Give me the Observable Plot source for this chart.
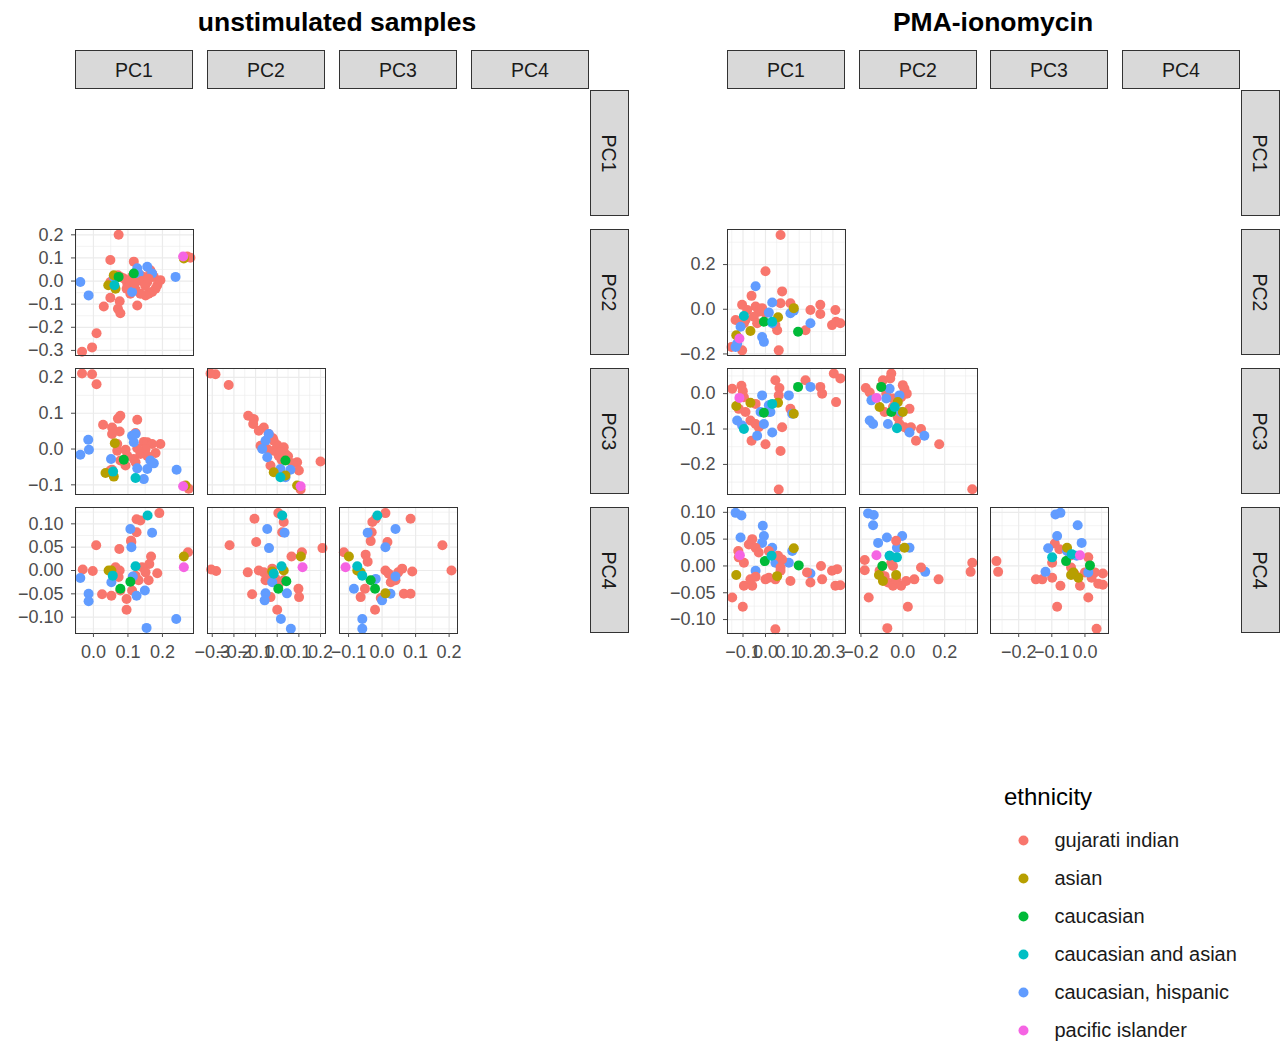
<!DOCTYPE html>
<html>
<head>
<meta charset="utf-8">
<script src="https://cdn.jsdelivr.net/npm/d3@7"></script>
<script src="https://cdn.jsdelivr.net/npm/@observablehq/plot@0.6"></script>
<style>
  body { margin: 0; background: #fff; }
  #root { position: relative; width: 1280px; height: 1044px; background: #fff; overflow: hidden;
          font-family: "Liberation Sans", Arial, Helvetica, sans-serif; }
  .strip { position: absolute; box-sizing: border-box; border: 1px solid #333; background: #D9D9D9;
           color: #1A1A1A; font-size: 19.5px; display: flex; align-items: center; justify-content: center; }
  .strip span.h { display: inline-block; padding-top: 2px; }
  .strip span.rot { display: inline-block; transform: rotate(90deg); white-space: nowrap; padding-top: 2px; }
  .title { position: absolute; font-weight: bold; font-size: 26.5px; color: #000; text-align: center; }
</style>
</head>
<body>
<div id="root"></div>
<script>
// ---------------- data ----------------
const groups = ["gujarati indian", "asian", "caucasian", "caucasian and asian", "caucasian, hispanic", "pacific islander"];
const palette = ["#F8766D", "#B79F00", "#00BA38", "#00BFC4", "#619CFF", "#F564E3"];
const pcNames = ["PC1", "PC2", "PC3", "PC4"];
const chartTitles = ["unstimulated samples", "PMA-ionomycin"];

// tick values (major / minor) per principal component, per chart
const unstimTicks = {
  PC1: [0, 0.1, 0.2], PC2: [-0.3, -0.2, -0.1, 0, 0.1, 0.2], PC3: [-0.1, 0, 0.1, 0.2], PC4: [-0.10, -0.05, 0, 0.05, 0.10]
};
const unstimMinor = {
  PC1: [-0.05, 0.05, 0.15, 0.25], PC2: [-0.25, -0.15, -0.05, 0.05, 0.15], PC3: [-0.05, 0.05, 0.15], PC4: [-0.125, -0.075, -0.025, 0.025, 0.075, 0.125]
};
const unstimDomain = {
  PC1: [-0.052, 0.290], PC2: [-0.322, 0.223], PC3: [-0.127, 0.225], PC4: [-0.135, 0.135]
};
const pmaTicks = {
  PC1: [-0.1, 0, 0.1, 0.2, 0.3], PC2: [-0.2, 0, 0.2], PC3: [-0.2, -0.1, 0], PC4: [-0.10, -0.05, 0, 0.05, 0.10]
};
const pmaMinor = {
  PC1: [-0.15, -0.05, 0.05, 0.15, 0.25, 0.35], PC2: [-0.1, 0.1, 0.3], PC3: [-0.25, -0.15, -0.05, 0.05], PC4: [-0.125, -0.075, -0.025, 0.025, 0.075]
};
const pmaDomain = {
  PC1: [-0.169, 0.356], PC2: [-0.207, 0.357], PC3: [-0.285, 0.071], PC4: [-0.126, 0.109]
};

// points: [x (column PC), y (row PC), group index]
const unstim_PC2_PC1 = [
  [0.073,0.200,0],[0.049,0.091,0],[0.117,0.084,0],[0.071,0.025,0],[-0.033,-0.306,0],[-0.004,-0.287,0],[0.009,-0.226,0],[0.030,-0.110,0],[0.049,-0.072,0],[0.076,-0.087,0],[0.071,-0.120,0],[0.078,-0.139,0],[0.127,-0.106,0],[0.098,-0.011,0],[0.096,-0.033,0],[0.107,-0.055,0],[0.117,-0.040,0],[0.127,0.018,0],[0.136,0.025,0],[0.146,0.018,0],[0.156,-0.004,0],[0.165,0.047,0],[0.170,0.033,0],[0.175,0.018,0],[0.185,-0.018,0],[0.194,0.004,0],[0.180,-0.033,0],[0.170,-0.047,0],[0.160,-0.055,0],[0.151,-0.062,0],[0.136,-0.055,0],[0.122,-0.037,0],[0.112,0.018,0],[0.088,0.011,0],[0.078,0.018,0],[0.064,0.011,0],[0.049,-0.004,0],[0.272,0.106,0],[0.281,0.101,0],
  [-0.038,-0.004,4],[-0.014,-0.062,4],[0.238,0.018,4],[0.156,0.062,4],[0.127,0.055,4],[0.170,0.033,4],[0.112,-0.047,4],[0.059,0.018,4],[0.131,0.033,4],
  [0.262,0.098,1],[0.043,-0.018,1],[0.064,-0.033,1],[0.059,0.025,1],
  [0.117,0.033,2],[0.073,0.018,2],
  [0.061,-0.018,3],
  [0.260,0.106,5],
  [0.140,0.000,0],[0.150,-0.020,0],[0.120,-0.010,0],[0.160,0.010,0]
];
const unstim_PC3_PC1 = [
  [-0.033,0.211,0],[-0.004,0.209,0],[0.009,0.181,0],[0.078,0.093,0],[0.071,0.085,0],[0.028,0.068,0],[0.054,0.060,0],[0.076,0.049,0],[0.054,0.042,0],[0.127,0.082,0],[0.122,0.045,0],[0.146,0.020,0],[0.156,0.019,0],[0.170,0.014,0],[0.194,0.014,0],[0.151,0.000,0],[0.127,0.002,0],[0.136,-0.014,0],[0.117,-0.028,0],[0.156,-0.019,0],[0.180,-0.011,0],[0.069,-0.005,0],[0.078,-0.032,0],[0.093,-0.002,0],[0.098,-0.019,0],[0.093,-0.046,0],[0.054,-0.058,0],[0.049,-0.060,0],[0.276,-0.111,0],[0.069,0.014,0],[0.122,-0.037,0],
  [-0.038,-0.016,4],[-0.015,0.026,4],[-0.013,-0.002,4],[0.051,-0.028,4],[0.112,0.037,4],[0.117,0.019,4],[0.127,-0.054,4],[0.146,-0.084,4],[0.156,-0.056,4],[0.165,-0.032,4],[0.175,-0.040,4],[0.241,-0.058,4],[0.122,0.042,4],
  [0.062,0.016,1],[0.035,-0.067,1],[0.059,-0.077,1],[0.267,-0.102,1],
  [0.088,-0.030,2],
  [0.122,-0.081,3],[0.057,-0.063,3],
  [0.260,-0.104,5]
];
const unstim_PC3_PC2 = [
  [-0.308,0.211,0],[-0.285,0.209,0],[-0.224,0.179,0],[-0.134,0.093,0],[-0.108,0.084,0],[-0.111,0.070,0],[-0.062,0.060,0],[-0.085,0.051,0],[-0.039,0.042,0],[-0.016,0.023,0],[-0.046,0.000,0],[0.000,0.011,0],[0.030,0.005,0],[0.038,-0.014,0],[0.007,-0.019,0],[-0.016,-0.005,0],[0.092,-0.037,0],[0.100,-0.060,0],[0.200,-0.035,0],[-0.031,-0.046,0],[0.108,-0.113,0],[-0.077,0.009,0],[0.015,-0.009,0],[-0.020,0.030,0],[0.020,-0.030,0],[0.050,-0.020,0],[0.070,-0.040,0],
  [-0.054,0.023,4],[-0.039,0.042,4],[-0.046,-0.023,4],[0.015,-0.056,4],[0.038,-0.079,4],[0.061,-0.058,4],[-0.069,0.000,4],
  [-0.016,-0.065,1],[0.038,-0.074,1],[0.092,-0.102,1],
  [0.038,-0.032,2],
  [0.015,-0.079,3],
  [0.108,-0.104,5]
];
const unstim_PC4_PC1 = [
  [-0.031,0.002,0],[-0.002,-0.001,0],[0.008,0.054,0],[0.025,-0.051,0],[0.052,-0.054,0],[0.075,0.046,0],[0.076,0.000,0],[0.073,-0.014,0],[0.096,-0.061,0],[0.096,-0.084,0],[0.109,0.064,0],[0.110,0.061,0],[0.125,0.110,0],[0.125,0.082,0],[0.136,0.107,0],[0.191,0.123,0],[0.167,0.030,0],[0.162,0.014,0],[0.141,0.007,0],[0.151,-0.004,0],[0.160,-0.021,0],[0.185,-0.006,0],[0.131,-0.021,0],[0.112,-0.043,0],[0.122,-0.011,0],[0.274,0.039,0],[0.078,-0.043,0],[0.064,0.007,0],
  [-0.038,-0.016,4],[-0.014,-0.050,4],[-0.014,-0.066,4],[0.107,0.089,4],[0.110,0.050,4],[0.170,0.081,4],[0.052,-0.025,4],[0.125,-0.054,4],[0.149,-0.043,4],[0.154,-0.123,4],[0.240,-0.104,4],[0.114,-0.013,4],
  [0.044,0.000,1],[0.052,0.000,1],[0.262,0.030,1],
  [0.078,-0.039,2],[0.107,-0.024,2],
  [0.157,0.118,3],[0.122,0.009,3],[0.056,-0.011,3],
  [0.262,0.007,5]
];
const unstim_PC4_PC2 = [
  [-0.305,0.002,0],[-0.282,-0.001,0],[-0.220,0.054,0],[-0.136,-0.004,0],[-0.116,-0.051,0],[-0.105,0.111,0],[-0.085,0.000,0],[-0.062,-0.004,0],[-0.054,-0.021,0],[-0.097,0.061,0],[-0.031,-0.057,0],[0.000,-0.084,0],[0.005,0.123,0],[0.030,0.104,0],[0.023,0.082,0],[0.030,-0.021,0],[0.007,-0.029,0],[0.066,0.030,0],[0.098,-0.039,0],[0.101,-0.057,0],[0.114,0.039,0],[0.209,0.048,0],[-0.023,0.004,0],[-0.039,-0.014,0],[-0.008,-0.018,0],
  [-0.046,0.089,4],[-0.038,0.048,4],[-0.054,-0.049,4],[-0.058,-0.064,4],[0.017,-0.104,4],[0.063,-0.125,4],[0.034,0.081,4],[0.045,-0.049,4],[-0.023,-0.025,4],
  [-0.023,-0.002,1],[0.030,0.000,1],[0.109,0.030,1],
  [0.005,-0.039,2],[0.042,-0.023,2],
  [0.023,0.118,3],[0.020,0.009,3],[-0.016,-0.007,3],
  [0.117,0.007,5]
];
const unstim_PC4_PC3 = [
  [-0.114,0.039,0],[-0.049,0.034,0],[-0.043,0.019,0],[-0.034,0.063,0],[-0.029,0.104,0],[-0.019,0.111,0],[-0.031,0.082,0],[0.010,0.123,0],[0.016,0.061,0],[0.085,0.111,0],[0.048,-0.004,0],[0.060,0.004,0],[0.090,-0.002,0],[0.065,-0.050,0],[0.085,-0.050,0],[0.180,0.054,0],[0.207,0.000,0],[-0.064,-0.057,0],[-0.051,-0.039,0],[-0.021,-0.084,0],[-0.004,-0.059,0],[0.026,-0.025,0],[0.010,0.000,0],[0.040,-0.021,0],[0.020,-0.007,0],
  [-0.043,0.081,4],[0.010,0.050,4],[0.040,0.089,4],[-0.084,-0.039,4],[-0.059,-0.104,4],[-0.059,-0.125,4],[0.000,-0.064,4],[0.025,-0.050,4],[0.040,-0.013,4],[-0.019,-0.018,4],
  [-0.099,0.030,1],[-0.074,0.000,1],[-0.064,-0.004,1],[0.010,-0.049,1],
  [-0.034,-0.021,2],[-0.021,-0.039,2],
  [-0.074,0.009,3],[-0.059,-0.011,3],[-0.014,0.118,3],
  [-0.109,0.007,5]
];

const pma_PC2_PC1 = [
  [0.067,0.332,0],[0.000,0.170,0],[0.074,0.080,0],[0.067,0.027,0],[0.111,0.027,0],[0.059,-0.184,0],[-0.104,-0.184,0],[-0.151,-0.169,0],[-0.062,0.060,0],[-0.104,0.020,0],[-0.081,-0.003,0],[-0.044,0.012,0],[-0.030,-0.011,0],[-0.052,-0.033,0],[-0.089,-0.048,0],[-0.096,-0.063,0],[-0.037,-0.063,0],[0.000,-0.018,0],[0.044,-0.071,0],[0.052,-0.094,0],[0.200,-0.003,0],[0.244,0.020,0],[0.244,-0.021,0],[0.311,-0.003,0],[0.296,-0.071,0],[0.314,-0.056,0],[0.333,-0.063,0],[0.178,-0.094,0],[-0.133,-0.048,0],[-0.015,0.005,0],
  [-0.044,0.103,4],[0.030,0.030,4],[0.015,-0.015,4],[0.111,-0.018,4],[0.126,-0.006,4],[0.200,-0.063,4],[-0.015,-0.124,4],[-0.007,-0.146,4],[-0.111,-0.078,4],[-0.133,-0.169,4],[-0.126,-0.154,4],[0.030,-0.063,4],
  [-0.130,-0.116,1],[-0.067,-0.097,1],[0.056,-0.036,1],[0.126,0.005,1],
  [-0.007,-0.056,2],[0.145,-0.101,2],
  [-0.096,-0.030,3],[0.030,-0.056,3],
  [-0.116,-0.131,5]
];
const pma_PC3_PC1 = [
  [-0.148,0.014,0],[-0.107,0.022,0],[-0.101,0.007,0],[0.044,0.038,0],[0.062,0.016,0],[0.059,-0.005,0],[0.178,0.038,0],[0.244,0.019,0],[0.252,0.000,0],[0.304,0.057,0],[0.333,0.043,0],[0.314,-0.024,0],[0.067,-0.162,0],[0.000,-0.143,0],[-0.062,-0.133,0],[-0.044,-0.029,0],[-0.067,-0.076,0],[-0.044,-0.086,0],[-0.030,-0.095,0],[-0.089,-0.052,0],[-0.119,-0.043,0],[0.074,-0.095,0],[0.111,-0.043,0],[0.015,-0.052,0],[0.059,-0.271,0],[-0.096,-0.010,0],
  [-0.015,-0.005,4],[0.104,-0.005,4],[0.200,0.019,4],[-0.022,-0.052,4],[0.022,-0.052,4],[-0.126,-0.076,4],[-0.104,-0.090,4],[-0.037,-0.119,4],[-0.007,-0.086,4],[0.030,-0.110,4],[0.119,-0.057,4],[0.015,-0.033,4],
  [-0.130,-0.035,1],[-0.067,-0.026,1],[0.056,-0.026,1],[0.126,-0.057,1],
  [0.145,0.019,2],[-0.007,-0.054,2],
  [-0.096,-0.100,3],[0.030,-0.029,3],
  [-0.116,-0.012,5]
];
const pma_PC3_PC2 = [
  [-0.177,0.016,0],[-0.158,0.003,0],[-0.095,0.038,0],[-0.055,0.057,0],[-0.060,0.043,0],[-0.087,-0.052,0],[-0.047,-0.014,0],[-0.047,-0.038,0],[-0.032,-0.024,0],[0.000,0.024,0],[0.008,0.014,0],[0.019,0.000,0],[-0.008,-0.010,0],[-0.024,-0.067,0],[-0.016,-0.086,0],[0.008,-0.095,0],[0.024,-0.100,0],[0.039,-0.095,0],[0.032,-0.043,0],[0.087,-0.100,0],[0.063,-0.133,0],[0.174,-0.143,0],[0.332,-0.270,0],[-0.103,0.019,0],[-0.079,0.000,0],
  [-0.158,-0.076,4],[-0.142,-0.086,4],[-0.150,-0.019,4],[-0.071,-0.086,4],[-0.063,0.014,4],[-0.016,-0.005,4],[-0.008,-0.052,4],[0.032,-0.110,4],[0.103,-0.119,4],[-0.079,-0.014,4],
  [-0.111,-0.038,1],[-0.024,-0.024,1],[0.000,-0.052,1],
  [-0.103,0.019,2],[-0.055,-0.052,2],
  [-0.028,-0.098,3],[-0.039,-0.038,3],
  [-0.126,-0.012,5]
];
const pma_PC4_PC1 = [
  [-0.133,0.099,4],[-0.107,0.094,4],[-0.111,0.053,4],[-0.012,0.075,4],[-0.007,0.056,4],[-0.015,0.043,4],[0.030,0.034,4],[0.119,0.028,4],[-0.044,-0.009,4],[0.104,0.006,4],[0.200,-0.014,4],[0.044,0.006,4],
  [-0.121,0.028,0],[-0.119,0.016,0],[-0.096,0.006,0],[-0.059,0.050,0],[-0.074,0.040,0],[-0.044,0.034,0],[-0.030,0.025,0],[-0.148,-0.059,0],[-0.101,-0.076,0],[-0.096,-0.037,0],[-0.059,-0.037,0],[-0.067,-0.025,0],[-0.044,-0.020,0],[0.000,-0.025,0],[0.015,-0.022,0],[0.044,-0.025,0],[0.067,-0.009,0],[0.074,0.012,0],[0.056,0.019,0],[0.015,0.028,0],[0.111,-0.028,0],[0.185,-0.012,0],[0.200,-0.031,0],[0.247,0.000,0],[0.252,-0.025,0],[0.296,-0.009,0],[0.319,-0.006,0],[0.311,-0.037,0],[0.333,-0.036,0],[0.044,-0.118,0],[0.067,-0.003,0],
  [-0.130,-0.017,1],[0.052,-0.019,1],[0.126,0.033,1],
  [-0.003,0.009,2],[0.148,0.001,2],
  [0.027,0.019,3],
  [-0.114,0.020,5]
];
const pma_PC4_PC2 = [
  [-0.166,0.098,4],[-0.139,0.095,4],[-0.142,0.076,4],[-0.118,0.043,4],[-0.076,0.053,4],[-0.003,0.056,4],[0.032,0.034,4],[0.107,-0.011,4],[-0.028,0.034,4],[-0.063,0.019,4],
  [-0.182,0.011,0],[-0.182,-0.008,0],[-0.163,-0.059,0],[-0.074,-0.116,0],[0.024,-0.076,0],[-0.111,-0.009,0],[-0.087,-0.019,0],[-0.071,-0.031,0],[-0.047,-0.037,0],[-0.032,-0.025,0],[-0.008,-0.037,0],[0.016,-0.028,0],[0.055,-0.025,0],[0.087,-0.003,0],[0.171,-0.025,0],[0.332,0.006,0],[0.324,-0.011,0],[-0.055,0.006,0],[-0.032,0.047,0],[-0.047,0.000,0],
  [-0.114,-0.017,1],[-0.095,-0.028,1],[0.008,0.034,1],[-0.032,-0.017,1],
  [-0.098,0.000,2],
  [-0.063,0.019,3],[-0.028,0.016,3],
  [-0.126,0.020,5]
];
const pma_PC4_PC3 = [
  [-0.267,0.009,0],[-0.262,-0.011,0],[-0.148,-0.025,0],[-0.129,-0.025,0],[-0.099,-0.022,0],[-0.099,0.006,0],[-0.074,-0.037,0],[-0.084,-0.076,0],[-0.091,0.042,0],[-0.077,0.031,0],[-0.042,-0.003,0],[-0.030,-0.016,0],[-0.015,-0.037,0],[0.000,-0.012,0],[0.010,0.016,0],[0.020,-0.022,0],[0.010,-0.059,0],[0.030,-0.012,0],[0.040,-0.033,0],[0.054,-0.014,0],[0.054,-0.035,0],[0.035,-0.117,0],[-0.045,0.019,0],
  [-0.089,0.096,4],[-0.074,0.099,4],[-0.022,0.076,4],[-0.010,0.043,4],[-0.119,-0.011,4],[-0.111,0.033,4],[-0.084,0.056,4],[-0.054,0.028,4],[0.010,-0.012,4],[-0.025,0.019,4],
  [-0.054,0.034,1],[-0.042,-0.017,1],[-0.020,-0.022,1],[-0.035,-0.012,1],
  [-0.057,0.009,2],[0.015,0.001,2],
  [-0.099,0.016,3],[-0.040,0.022,3],
  [-0.015,0.020,5]
];

const unstimPanels = { "PC2_PC1": unstim_PC2_PC1, "PC3_PC1": unstim_PC3_PC1, "PC3_PC2": unstim_PC3_PC2,
                       "PC4_PC1": unstim_PC4_PC1, "PC4_PC2": unstim_PC4_PC2, "PC4_PC3": unstim_PC4_PC3 };
const pmaPanels = { "PC2_PC1": pma_PC2_PC1, "PC3_PC1": pma_PC3_PC1, "PC3_PC2": pma_PC3_PC2,
                    "PC4_PC1": pma_PC4_PC1, "PC4_PC2": pma_PC4_PC2, "PC4_PC3": pma_PC4_PC3 };

// ---------------- layout ----------------
const root = document.getElementById("root");
const PW = 118, PH = 126, ML = 80, MB = 40;
const rowsY = [90, 229, 368, 507];
const charts = [
  { title: chartTitles[0], titleX: 337, cols: [75, 207, 339, 471], ticks: unstimTicks, minor: unstimMinor, dom: unstimDomain, panels: unstimPanels },
  { title: chartTitles[1], titleX: 993, cols: [727, 859, 990, 1122], ticks: pmaTicks, minor: pmaMinor, dom: pmaDomain, panels: pmaPanels }
];
const fmt = pc => pc === "PC4" ? d3.format(".2f") : d3.format(".1f");
const FONT = "'Liberation Sans', Arial, Helvetica, sans-serif";

function addDiv(cls, left, top, w, h, html) {
  const d = document.createElement("div");
  d.className = cls;
  Object.assign(d.style, { left: left + "px", top: top + "px", width: w + "px", height: h + "px" });
  d.innerHTML = html;
  root.appendChild(d);
  return d;
}

for (const ch of charts) {
  const t = addDiv("title", ch.titleX - 300, 6, 600, 32, ch.title);
  t.style.lineHeight = "32px";
  // top strips
  pcNames.forEach((pc, c) => addDiv("strip", ch.cols[c], 50, PW, 39, `<span class="h">${pc}</span>`));
  // right strips
  const sx = ch.cols[3] + PW + 1;
  pcNames.forEach((pc, r) => addDiv("strip", sx, rowsY[r], 39, PH, `<span class="rot">${pc}</span>`));
  // panels (lower triangle)
  for (let r = 1; r < 4; r++) {
    for (let c = 0; c < r; c++) {
      const ypc = pcNames[r], xpc = pcNames[c];
      const data = ch.panels[ypc + "_" + xpc];
      const marks = [
        Plot.ruleX(ch.minor[xpc], { stroke: "#EBEBEB", strokeWidth: 0.6 }),
        Plot.ruleY(ch.minor[ypc], { stroke: "#EBEBEB", strokeWidth: 0.6 }),
        Plot.ruleX(ch.ticks[xpc], { stroke: "#EBEBEB", strokeWidth: 1.2 }),
        Plot.ruleY(ch.ticks[ypc], { stroke: "#EBEBEB", strokeWidth: 1.2 }),
        Plot.dot(data, { x: d => d[0], y: d => d[1], fill: d => groups[d[2]], r: 5 }),
        Plot.frame({ stroke: "#333333", strokeWidth: 1 })
      ];
      if (c === 0) marks.push(Plot.axisY(ch.ticks[ypc], { tickFormat: fmt(ypc), tickSize: 4, tickPadding: 8, color: "#4D4D4D", label: null }));
      if (r === 3) marks.push(Plot.axisX(ch.ticks[xpc], { tickFormat: fmt(xpc), tickSize: 4, tickPadding: 8, color: "#4D4D4D", label: null }));
      const svg = Plot.plot({
        width: PW + ML, height: PH + MB,
        marginLeft: ML, marginRight: 0, marginTop: 0, marginBottom: MB,
        x: { domain: ch.dom[xpc], axis: null },
        y: { domain: ch.dom[ypc], axis: null },
        color: { domain: groups, range: palette },
        style: { background: "transparent", overflow: "visible", fontSize: "18px", fontFamily: FONT, maxWidth: "none" },
        marks
      });
      Object.assign(svg.style, { position: "absolute", left: (ch.cols[c] - ML) + "px", top: rowsY[r] + "px" });
      root.appendChild(svg);
    }
  }
}

// ---------------- legend ----------------
const lt = addDiv("title", 1004, 783, 200, 28, "ethnicity");
Object.assign(lt.style, { fontWeight: "normal", fontSize: "24px", textAlign: "left", lineHeight: "28px", color: "#000" });
const leg = Plot.plot({
  width: 276, height: 240, margin: 0,
  x: { domain: [0, 1], range: [19, 50], axis: null },
  y: { type: "point", domain: groups, range: [24, 216.5], padding: 0, axis: null },
  color: { domain: groups, range: palette },
  style: { background: "transparent", overflow: "visible", fontSize: "20px", fontFamily: FONT, maxWidth: "none" },
  marks: [
    Plot.dot(groups, { x: () => 0, y: d => d, fill: d => d, r: 5 }),
    Plot.text(groups, { x: () => 1, y: d => d, text: d => d, textAnchor: "start", fill: "#1A1A1A" })
  ]
});
Object.assign(leg.style, { position: "absolute", left: "1004px", top: "815px" });
root.appendChild(leg);
</script>
</body>
</html>
